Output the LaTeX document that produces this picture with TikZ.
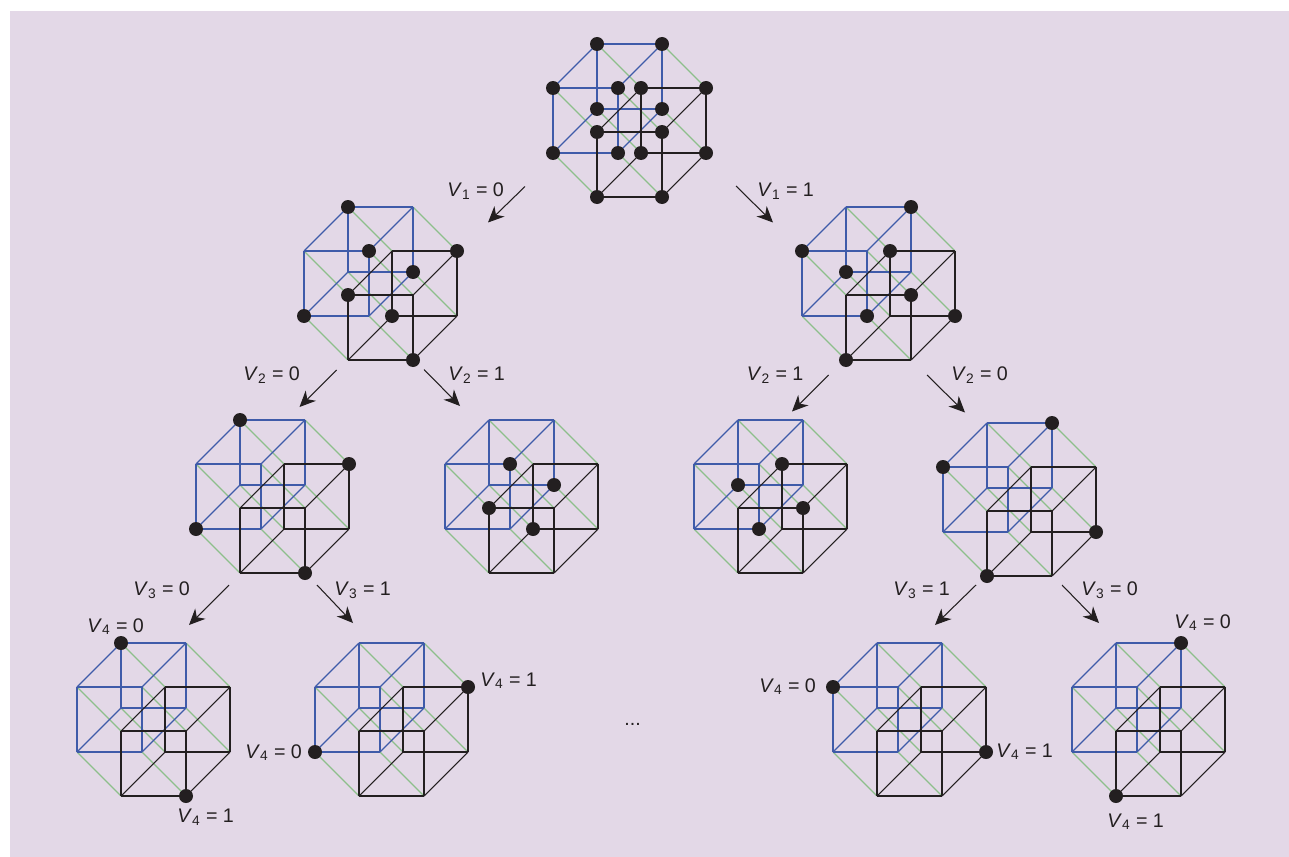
\documentclass[tikz,border=0pt]{standalone}
\usepackage{fontspec}
\setmainfont{Liberation Sans}
\usetikzlibrary{arrows.meta}
\definecolor{panelbg}{HTML}{E3D8E7}
\definecolor{cubeblue}{HTML}{3F5BA9}
\definecolor{cubegreen}{HTML}{8DBF8B}
\definecolor{cubeblack}{HTML}{231F20}
\newcommand{\vlab}[2]{\textit{V}\textsubscript{#1} = #2}
\newcommand{\markverts}[2]{\foreach \v in {#2} \node[vtx] (#1-d\v) at (#1-v\v) {};}
\tikzset{
    blueedge/.style={draw=cubeblue, line width=0.65pt},
    greenedge/.style={draw=cubegreen, line width=0.65pt},
    blackedge/.style={draw=cubeblack, line width=0.6pt},
    vtx/.style={circle, fill=cubeblack, inner sep=0pt, minimum size=2.8mm},
    lab/.style={anchor=base west, inner sep=0pt, font=\fontsize{11.2}{13}\selectfont, text=cubeblack},
    branch/.style={-{Stealth[length=3.2mm, width=2.9mm, inset=1mm]}, draw=cubeblack, line width=0.6pt},
    hcube/.pic={
        \foreach \a in {0,1} \foreach \b in {0,1} \foreach \c in {0,1} \foreach \d in {0,1}
            \coordinate (-v\a\b\c\d) at (44*\a+44*\b+65*\c, 44*\a-44*\b+65*\d);
        \foreach \x in {0,1} \foreach \y in {0,1} {
            \draw[greenedge] (-v00\x\y) -- (-v10\x\y);
            \draw[greenedge] (-v01\x\y) -- (-v11\x\y);
        }
        \foreach \a/\edge in {0/blueedge,1/blackedge} \foreach \x in {0,1} \foreach \y in {0,1} {
            \draw[\edge] (-v\a0\x\y) -- (-v\a1\x\y);
            \draw[\edge] (-v\a\x0\y) -- (-v\a\x1\y);
            \draw[\edge] (-v\a\x\y0) -- (-v\a\x\y1);
        }
    }
}
\begin{document}
\begin{tikzpicture}[x=0.2mm, y=-0.2mm]
\useasboundingbox (0,0) rectangle (1289,857);
\fill[panelbg] (10,11) rectangle (1289,857);

% Define cubes
\pic (root) at (553,88) {hcube};
\pic (l) at (304,251) {hcube};
\pic (r) at (802,251) {hcube};
\pic (ll) at (196,464) {hcube};
\pic (lr) at (445,464) {hcube};
\pic (rl) at (694,464) {hcube};
\pic (rr) at (943,467) {hcube};
\pic (lll) at (77,687) {hcube};
\pic (llr) at (315,687) {hcube};
\pic (rrl) at (833,687) {hcube};
\pic (rrr) at (1072,687) {hcube};

% Mark vertices
\markverts{root}{0000,0001,0010,0011,0100,0101,0110,0111,1000,1001,1010,1011,1100,1101,1110,1111}
\markverts{l}{0100,0010,0001,0111,1110,1000,1101,1011}
\markverts{r}{0000,0110,0101,0011,1100,1010,1111,1001}
\markverts{ll}{0100,0001,1110,1011}
\markverts{lr}{0010,0111,1000,1101}
\markverts{rl}{0101,0011,1100,1010}
\markverts{rr}{0110,0000,1111,1001}
\markverts{lll}{0100,1011}
\markverts{llr}{0001,1110}
\markverts{rrl}{0000,1111}
\markverts{rrr}{0110,1001}

% Draw arrows
\coordinate (a1s) at (525,186.5); \coordinate (a1e) at (488,222.5);
\coordinate (a2s) at (736,186); \coordinate (a2e) at (773,222.5);
\coordinate (b1s) at (336.5,370); \coordinate (b1e) at (299.5,407);
\coordinate (b2s) at (424,369.5); \coordinate (b2e) at (460,406);
\coordinate (b3s) at (828.5,375); \coordinate (b3e) at (792,411.5);
\coordinate (b4s) at (927,375); \coordinate (b4e) at (965,412.5);
\coordinate (c1s) at (229,585); \coordinate (c1e) at (189,625);
\coordinate (c2s) at (317,585); \coordinate (c2e) at (353,623);
\coordinate (c3s) at (976,585); \coordinate (c3e) at (935,625);
\coordinate (c4s) at (1062,585); \coordinate (c4e) at (1099,623);
\draw[branch] (a1s) -- (a1e);
\draw[branch] (a2s) -- (a2e);
\draw[branch] (b1s) -- (b1e);
\draw[branch] (b2s) -- (b2e);
\draw[branch] (b3s) -- (b3e);
\draw[branch] (b4s) -- (b4e);
\draw[branch] (c1s) -- (c1e);
\draw[branch] (c2s) -- (c2e);
\draw[branch] (c3s) -- (c3e);
\draw[branch] (c4s) -- (c4e);

% Labels
\node[lab] (la1) at (447,196.5) {\vlab{1}{0}};
\node[lab] (la2) at (757,196.5) {\vlab{1}{1}};
\node[lab] (lb1) at (243,380.5) {\vlab{2}{0}};
\node[lab] (lb2) at (448,380.5) {\vlab{2}{1}};
\node[lab] (lb3) at (746.5,380.5) {\vlab{2}{1}};
\node[lab] (lb4) at (951,380.5) {\vlab{2}{0}};
\node[lab] (lc1) at (133,595.5) {\vlab{3}{0}};
\node[lab] (lc2) at (334,595.5) {\vlab{3}{1}};
\node[lab] (lc3) at (893,595.5) {\vlab{3}{1}};
\node[lab] (lc4) at (1081,595.5) {\vlab{3}{0}};
\node[lab] (ld1) at (87,632) {\vlab{4}{0}};
\node[lab] (ld2) at (177,822.5) {\vlab{4}{1}};
\node[lab] (ld3) at (245,758) {\vlab{4}{0}};
\node[lab] (ld4) at (480,686) {\vlab{4}{1}};
\node[lab] (ld5) at (759,692) {\vlab{4}{0}};
\node[lab] (ld6) at (996,757) {\vlab{4}{1}};
\node[lab] (ld7) at (1174,628) {\vlab{4}{0}};
\node[lab] (ld8) at (1107,827) {\vlab{4}{1}};
\node[lab] (gap) at (624,725) {...};
\end{tikzpicture}
\end{document}
